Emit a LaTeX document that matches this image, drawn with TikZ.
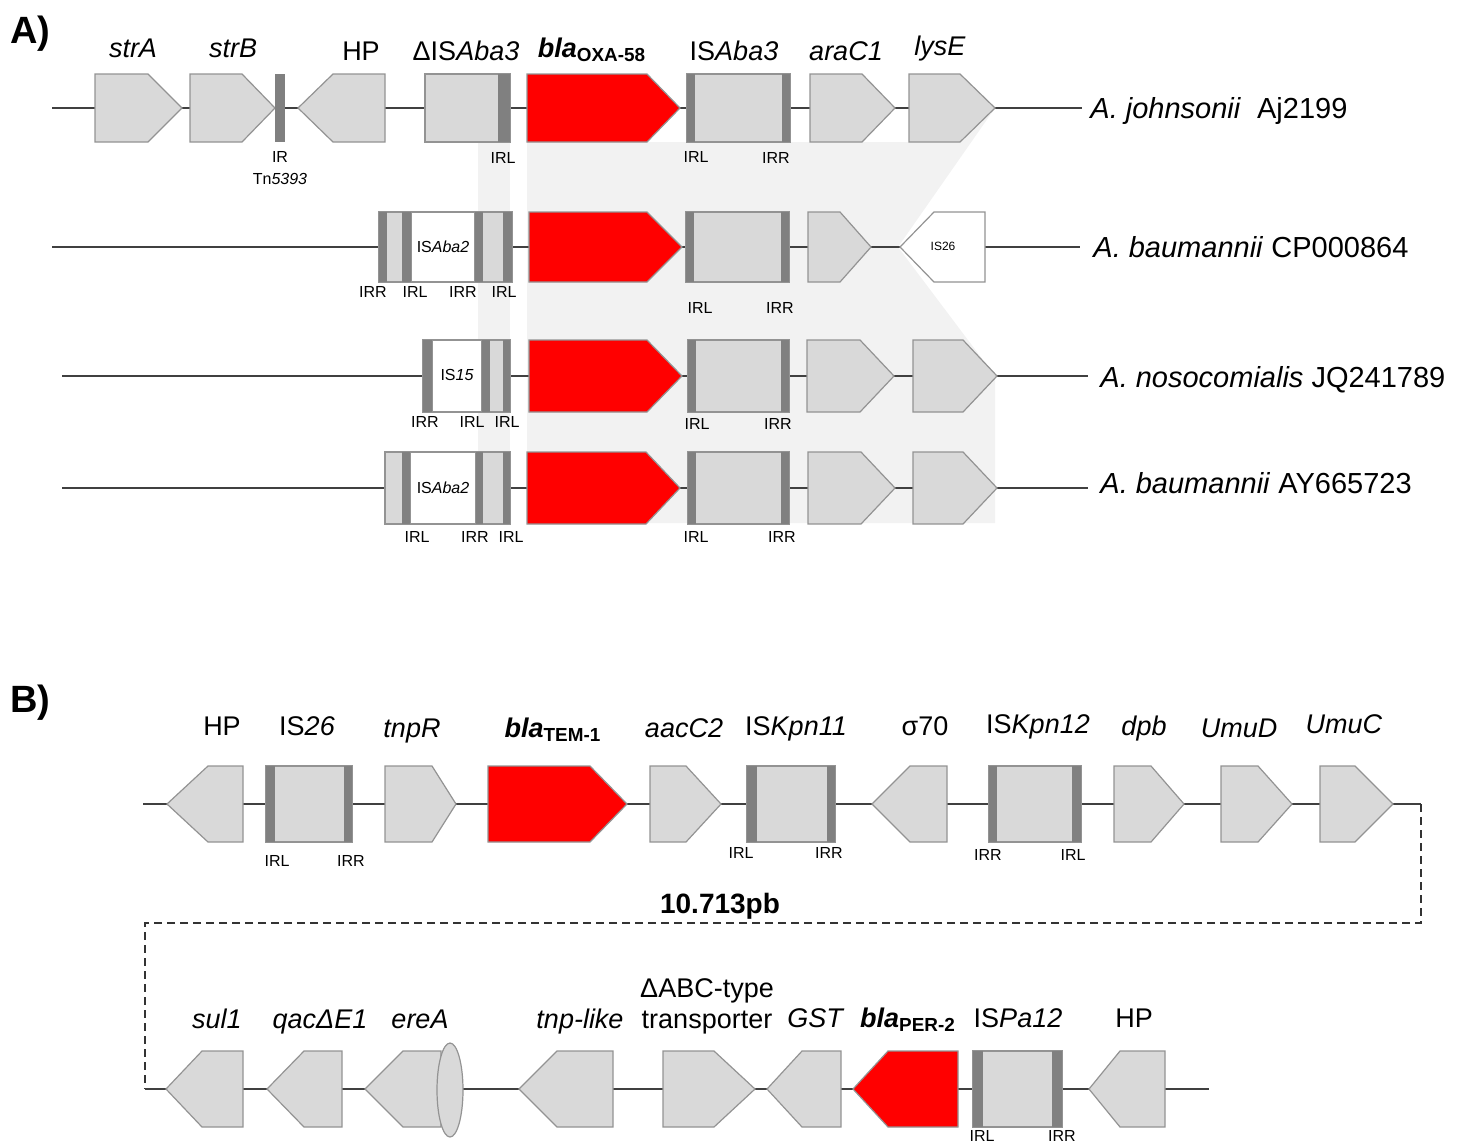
\documentclass[tikz,border=0pt]{standalone}
\usepackage{fontspec}
\setmainfont{Liberation Sans}
\usetikzlibrary{positioning}

\def\hh{34}
%% gene drawn as arrow: [style]{name}{left}{shoulder}{tip}{y}
\newcommand{\genefwd}[6][gene]{%
  \draw[#1] (#3,#6-\hh) -- (#4,#6-\hh) -- (#5,#6) -- (#4,#6+\hh) -- (#3,#6+\hh) -- cycle;
  \coordinate (#2) at (#3/2+#5/2,#6);}
%% reverse gene: [style]{name}{tip}{shoulder}{right}{y}
\newcommand{\generev}[6][gene]{%
  \draw[#1] (#3,#6) -- (#4,#6-\hh) -- (#5,#6-\hh) -- (#5,#6+\hh) -- (#4,#6+\hh) -- cycle;
  \coordinate (#2) at (#3/2+#5/2,#6);}
%% IS element box: [style]{name}{left}{right}{y}
\newcommand{\isbox}[5][gene]{%
  \draw[#1] (#3,#5-\hh) rectangle (#4,#5+\hh);
  \coordinate (#2) at (#3/2+#4/2,#5);}
%% inverted repeat mark: {left}{right}{y}
\newcommand{\irmark}[3]{\fill[irbar] (#1,#3-\hh) rectangle (#2,#3+\hh);}

\begin{document}
\begin{tikzpicture}[
  x=0.5pt, y=-0.5pt,
  gene/.style     = {draw=gray!85, fill=gray!30, line width=0.6pt},
  redgene/.style  = {gene, fill=red},
  whitegene/.style= {gene, fill=white},
  irbar/.style    = {fill=gray},
  backbone/.style = {draw=black!75, line width=1pt},
  shade/.style    = {fill=gray!10},
  gap/.style      = {draw=black!80, line width=0.9pt, dash pattern=on 4pt off 2.5pt},
  genelbl/.style  = {font=\fontsize{13.5}{15.5}\selectfont, anchor=base, inner sep=0pt},
  spclbl/.style   = {font=\fontsize{14.5}{17}\selectfont, anchor=base west, inner sep=0pt},
  irlbl/.style    = {font=\fontsize{8}{11}\selectfont, anchor=base, inner sep=0pt},
  boxlbl/.style   = {font=\fontsize{8}{9}\selectfont, inner sep=0pt},
  panel/.style    = {font=\fontsize{19}{22}\selectfont\bfseries, anchor=base west, inner sep=0pt},
]
\useasboundingbox (0,0) rectangle (1460,1142);

%% ---------------- Panel A ----------------
\node[panel] (pA) at (10,43) {A)};

%% conserved region shading
\fill[shade] (478,142) rectangle (510,523);
\fill[shade] (527,142) -- (960,142) -- (995,108) -- (898,247) -- (995,376)
             -- (995,523) -- (527,523) -- cycle;

%% Row 1: A. johnsonii
\def\hh{34}
\coordinate (r1s) at (52,108);
\coordinate (r1e) at (1082,108);
\draw[backbone] (r1s) -- (r1e);
\genefwd{strA}{95}{148}{182}{108}
\genefwd{strB}{190}{242}{275}{108}
\irmark{275}{285}{108}
\generev{hpA}{298}{333}{385}{108}
\isbox{disaba}{425}{510}{108}
\irmark{498}{510}{108}
\genefwd[redgene]{oxa1}{527}{647}{680}{108}
\isbox{isaba1}{687}{790}{108}
\irmark{687}{695}{108} \irmark{782}{790}{108}
\genefwd{arac1}{810}{862}{895}{108}
\genefwd{lyse1}{909}{960}{995}{108}

\node[genelbl] (lstrA) at (133,57) {\textit{strA}};
\node[genelbl] (lstrB) at (233,57) {\textit{strB}};
\node[genelbl] (lhpA)  at (361,60) {HP};
\node[genelbl] (ldis)  at (466,60) {ΔIS\textit{Aba3}};
\node[genelbl] (loxa)  at (592,57) {\textbf{\textit{bla}}\textsubscript{\textbf{OXA-58}}};
\node[genelbl] (lis1)  at (734,60) {IS\textit{Aba3}};
\node[genelbl] (larac) at (846,60) {\textit{araC1}};
\node[genelbl] (llyse) at (940,55) {\textit{lysE}};
\node[irlbl, align=center, anchor=north] (ltn) at (280,151) {IR\\Tn\textit{5393}};
\node[irlbl] at (503,163) {IRL};
\node[irlbl] at (696,162) {IRL};
\node[irlbl] at (776,163) {IRR};
\node[spclbl] (sp1) at (1090,118) {\textit{A. johnsonii}\ \ Aj2199};

%% Row 2: A. baumannii CP000864
\def\hh{35}
\coordinate (r2s) at (52,247);
\coordinate (r2e) at (1080,247);
\draw[backbone] (r2s) -- (r2e);
\isbox{cmp2}{379}{512}{247}
\isbox[whitegene]{aba2a}{411}{475}{247}
\irmark{379}{387}{247} \irmark{402}{411}{247}
\irmark{475}{483}{247} \irmark{503}{512}{247}
\node[boxlbl] at (aba2a) {IS\textit{Aba2}};
\genefwd[redgene]{oxa2}{529}{647}{682}{247}
\isbox{isaba2}{686}{789}{247}
\irmark{686}{694}{247} \irmark{781}{789}{247}
\genefwd{arac2}{808}{840}{871}{247}
\generev[whitegene]{is26a}{900}{934}{985}{247}
\node[boxlbl, font=\fontsize{6}{7}\selectfont] at (943,246) {IS26};
\node[irlbl] at (373,297) {IRR};
\node[irlbl] at (415,297) {IRL};
\node[irlbl] at (463,297) {IRR};
\node[irlbl] at (504,297) {IRL};
\node[irlbl] at (700,313) {IRL};
\node[irlbl] at (780,313) {IRR};
\node[spclbl] (sp2) at (1093,257) {\textit{A. baumannii} CP000864};

%% Row 3: A. nosocomialis JQ241789
\def\hh{36}
\coordinate (r3s) at (62,376);
\coordinate (r3e) at (1088,376);
\draw[backbone] (r3s) -- (r3e);
\isbox{cmp3}{423}{510}{376}
\isbox[whitegene]{is15}{432}{482}{376}
\irmark{423}{432}{376} \irmark{482}{490}{376} \irmark{503}{510}{376}
\node[boxlbl] at (457,375) {IS\textit{15}};
\genefwd[redgene]{oxa3}{529}{647}{682}{376}
\isbox{isaba3}{688}{789}{376}
\irmark{688}{696}{376} \irmark{781}{789}{376}
\genefwd{arac3}{807}{860}{894}{376}
\genefwd{lyse3}{913}{963}{997}{376}
\node[irlbl] at (425,427) {IRR};
\node[irlbl] at (472,427) {IRL};
\node[irlbl] at (507,427) {IRL};
\node[irlbl] at (697,429) {IRL};
\node[irlbl] at (778,429) {IRR};
\node[spclbl] (sp3) at (1100,387) {\textit{A. nosocomialis} JQ241789};

%% Row 4: A. baumannii AY665723
\def\hh{36}
\coordinate (r4s) at (62,488);
\coordinate (r4e) at (1088,488);
\draw[backbone] (r4s) -- (r4e);
\isbox{cmp4}{385}{510}{488}
\isbox[whitegene]{aba2b}{410}{476}{488}
\irmark{402}{410}{488} \irmark{476}{483}{488} \irmark{503}{510}{488}
\node[boxlbl] at (aba2b) {IS\textit{Aba2}};
\genefwd[redgene]{oxa4}{527}{646}{680}{488}
\isbox{isaba4}{688}{789}{488}
\irmark{688}{696}{488} \irmark{781}{789}{488}
\genefwd{arac4}{808}{861}{895}{488}
\genefwd{lyse4}{913}{963}{997}{488}
\node[irlbl] at (417,542) {IRL};
\node[irlbl] at (475,542) {IRR};
\node[irlbl] at (511,542) {IRL};
\node[irlbl] at (696,542) {IRL};
\node[irlbl] at (782,542) {IRR};
\node[spclbl] (sp4) at (1100,493) {\textit{A. baumannii} AY665723};

%% ---------------- Panel B ----------------
\node[panel] (pB) at (10,712) {B)};

%% Row B1
\def\hh{38}
\coordinate (b1s) at (143,804);
\coordinate (b1e) at (1421,804);
\draw[backbone] (b1s) -- (b1e);
\generev{hpB}{167}{208}{243}{804}
\isbox{is26b}{266}{352}{804}
\irmark{266}{275}{804} \irmark{344}{352}{804}
\genefwd{tnpr}{385}{432}{456}{804}
\genefwd[redgene]{tem}{488}{590}{627}{804}
\genefwd{aacc}{650}{686}{721}{804}
\isbox{kpn11}{747}{835}{804}
\irmark{747}{757}{804} \irmark{827}{835}{804}
\generev{sig}{872}{910}{947}{804}
\isbox{kpn12}{989}{1081}{804}
\irmark{989}{997}{804} \irmark{1072}{1081}{804}
\genefwd{dpb}{1114}{1151}{1184}{804}
\genefwd{umud}{1221}{1258}{1292}{804}
\genefwd{umuc}{1320}{1355}{1393}{804}

\node[genelbl] at (222,735)  {HP};
\node[genelbl] at (307,735)  {IS\textit{26}};
\node[genelbl] at (412,737)  {\textit{tnpR}};
\node[genelbl] at (553,737)  {\textbf{\textit{bla}}\textsubscript{\textbf{TEM-1}}};
\node[genelbl] at (684,737)  {\textit{aacC2}};
\node[genelbl] at (796,735)  {IS\textit{Kpn11}};
\node[genelbl] at (925,735)  {σ70};
\node[genelbl] at (1038,733) {IS\textit{Kpn12}};
\node[genelbl] at (1144,735) {\textit{dpb}};
\node[genelbl] at (1239,737) {\textit{UmuD}};
\node[genelbl] at (1344,733) {\textit{UmuC}};
\node[irlbl] at (277,866)  {IRL};
\node[irlbl] at (351,866)  {IRR};
\node[irlbl] at (741,858)  {IRL};
\node[irlbl] at (829,858)  {IRR};
\node[irlbl] at (988,860)  {IRR};
\node[irlbl] at (1073,860) {IRL};

%% break between the two rows
\coordinate (b2s) at (145,1089);
\coordinate (brk) at (720,923);
\draw[gap] (b1e) |- (brk) -| (b2s);
\node[genelbl, font=\fontsize{14}{16}\selectfont\bfseries] (gaplbl) at (720,913) {10.713pb};

%% Row B2
\coordinate (b2e) at (1209,1089);
\draw[backbone] (b2s) -- (b2e);
\generev{sul}{166}{202}{243}{1089}
\generev{qac}{267}{304}{342}{1089}
\generev{erea}{365}{403}{441}{1089}
\draw[gene] (450,1090) ellipse [x radius=13, y radius=47];
\generev{tnp}{519}{557}{613}{1089}
\genefwd{abc}{663}{714}{755}{1089}
\generev{gst}{767}{802}{841}{1089}
\generev[redgene]{per}{853}{888}{958}{1089}
\isbox{pa12}{973}{1062}{1089}
\irmark{973}{983}{1089} \irmark{1052}{1062}{1089}
\generev{hpC}{1089}{1120}{1165}{1089}

\node[genelbl] at (217,1028)  {\textit{sul1}};
\node[genelbl] at (320,1028)  {\textit{qacΔE1}};
\node[genelbl] at (420,1028)  {\textit{ereA}};
\node[genelbl] at (580,1028)  {\textit{tnp-like}};
\node[genelbl, align=center, anchor=north] at (707,978) {ΔABC-type\\transporter};
\node[genelbl] at (816,1027)  {\textit{GST}};
\node[genelbl] at (908,1027)  {\textbf{\textit{bla}}\textsubscript{\textbf{PER-2}}};
\node[genelbl] at (1018,1027) {IS\textit{Pa12}};
\node[genelbl] at (1134,1027) {HP};
\node[irlbl] at (982,1141)  {IRL};
\node[irlbl] at (1062,1141) {IRR};

\end{tikzpicture}
\end{document}
